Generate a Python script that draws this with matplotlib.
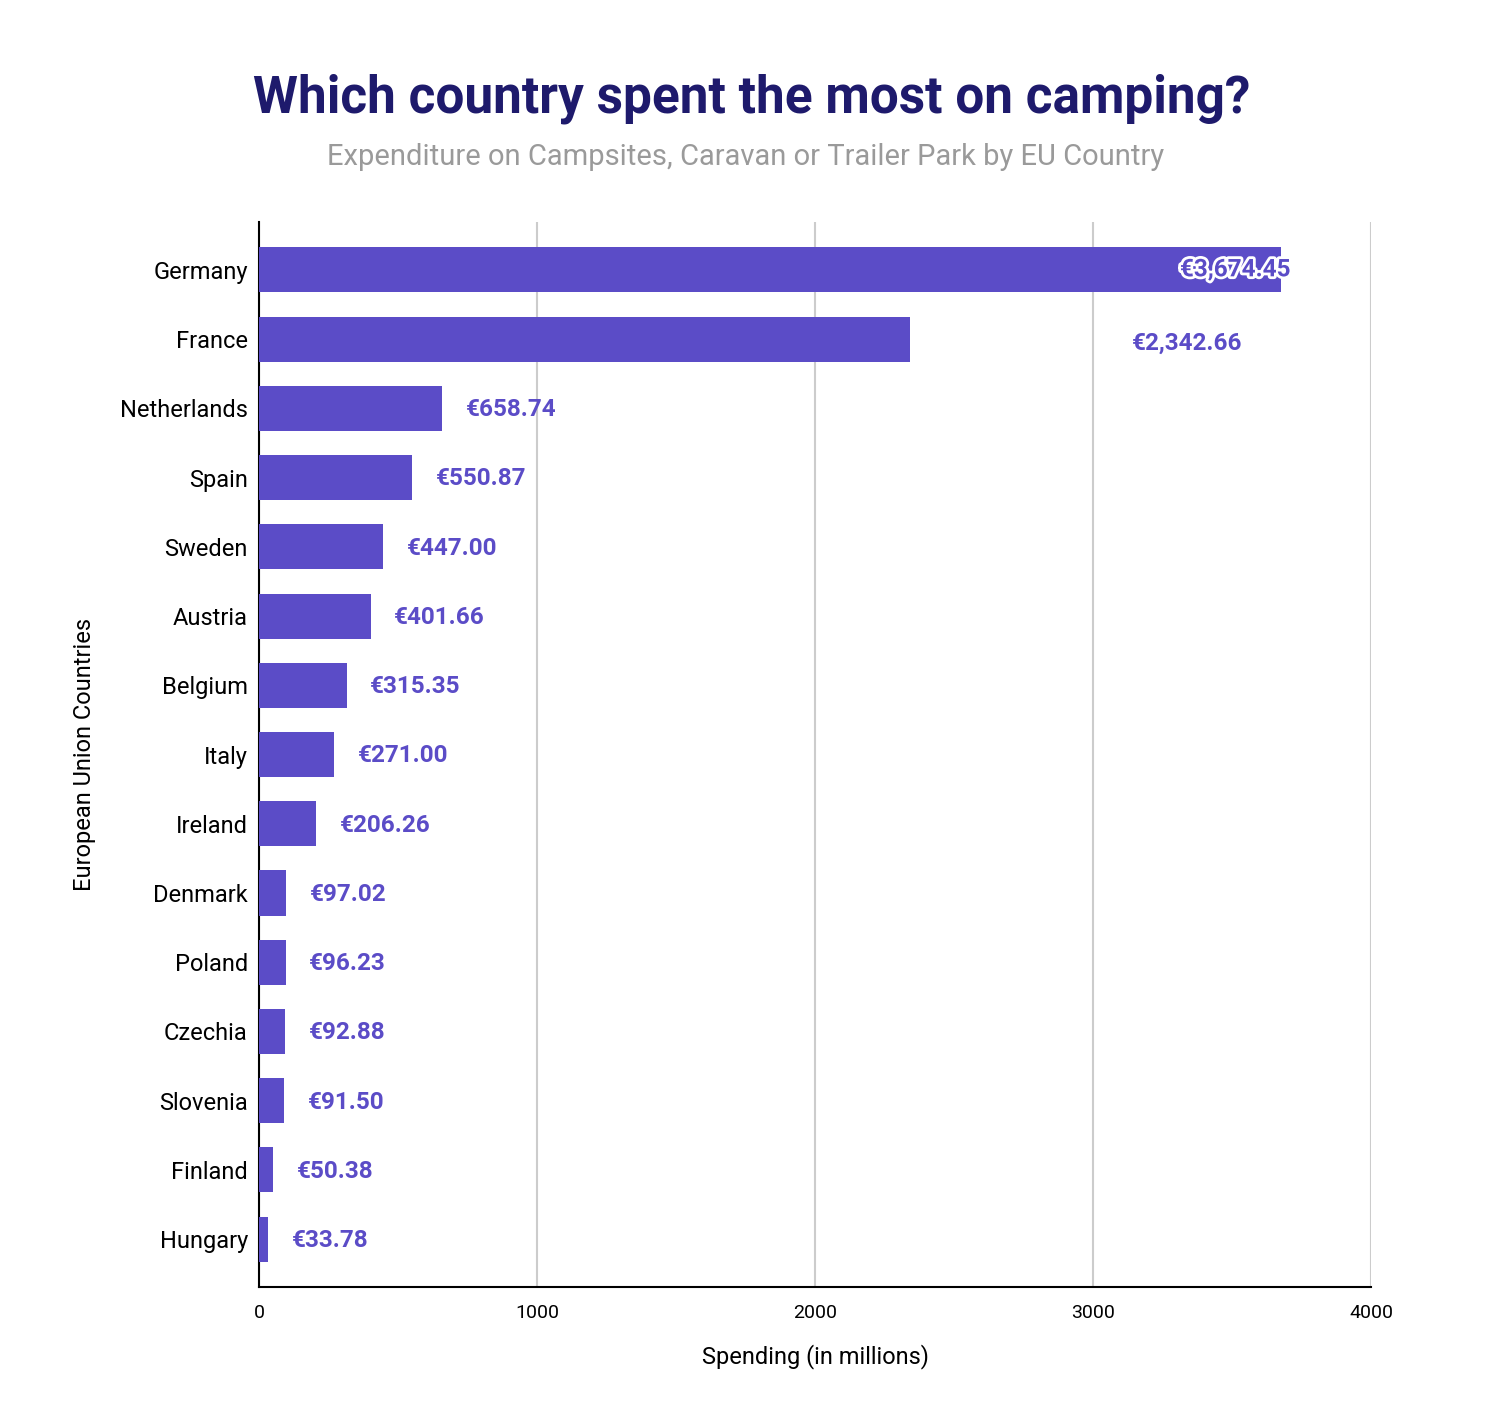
import matplotlib.pyplot as plt
import matplotlib.patheffects as pe

countries = ['Germany', 'France', 'Netherlands', 'Spain', 'Sweden', 'Austria',
             'Belgium', 'Italy', 'Ireland', 'Denmark', 'Poland', 'Czechia',
             'Slovenia', 'Finland', 'Hungary']
spending = [3674.45, 2342.66, 658.74, 550.87, 447.00, 401.66, 315.35, 271.00,
            206.26, 97.02, 96.23, 92.88, 91.50, 50.38, 33.78]
x_ticks = [0, 1000, 2000, 3000, 4000]

BAR = '#5b4cc7'
TITLE = '#1e1a6c'

plt.rcParams['font.family'] = ['Roboto', 'DejaVu Sans']

fig = plt.figure(figsize=(15.1, 14.16), dpi=100)
ax = fig.add_axes([0.1715, 0.0911, 0.7365, 0.7521])

ypos = list(range(len(countries)))
ax.barh(ypos, spending, height=0.65, color=BAR, zorder=3)
ax.set_ylim(len(countries) - 1 + 0.69, -0.69)
ax.set_xlim(0, 4000)
ax.set_yticks(ypos)
ax.set_yticklabels(countries, fontsize=17)
ax.set_xticks(x_ticks)
ax.set_xticklabels([str(t) for t in x_ticks], fontsize=14)
ax.tick_params(axis='y', length=0, pad=8)
ax.tick_params(axis='x', length=0, pad=12)

ax.grid(axis='x', color='#cccccc', linewidth=1.5, zorder=0)
for s in ['top', 'right']:
    ax.spines[s].set_visible(False)
ax.spines['left'].set_linewidth(1.5)
ax.spines['bottom'].set_linewidth(1.5)

# value labels
for i, v in enumerate(spending):
    txt = f'€{v:,.2f}'
    if i == 0:
        ax.text(v + 35, i, txt, ha='right', va='center', fontsize=17.5,
                fontweight='bold', color=BAR, zorder=5,
                path_effects=[pe.withStroke(linewidth=4, foreground='white')])
    elif i == 1:
        ax.text(3140, i + 0.06, txt, ha='left', va='center', fontsize=17.5,
                fontweight='bold', color=BAR, zorder=5)
    else:
        ax.text(v + 85, i + 0.02, txt, ha='left', va='center', fontsize=17.5,
                fontweight='bold', color=BAR, zorder=5)

ax.set_xlabel('Spending (in millions)', fontsize=17, labelpad=16)
ax.set_ylabel('European Union Countries', fontsize=17, labelpad=17)

fig.text(0.498, 0.930, 'Which country spent the most on camping?', ha='center',
         va='center', fontsize=37, fontweight='bold', color=TITLE)
fig.text(0.494, 0.889, 'Expenditure on Campsites, Caravan or Trailer Park by EU Country',
         ha='center', va='center', fontsize=21, color='#9a9a9a')

fig.savefig('out.png', dpi=100)
